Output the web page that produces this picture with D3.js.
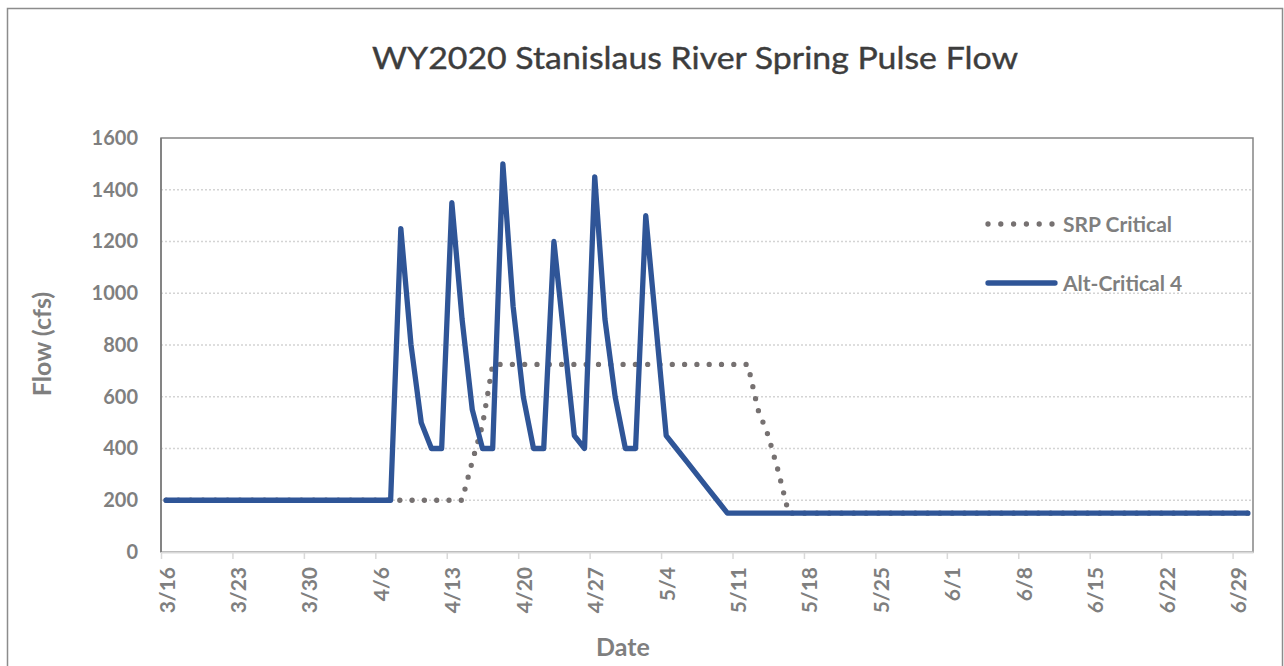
<!DOCTYPE html>
<html>
<head>
<meta charset="utf-8">
<script src="https://cdn.jsdelivr.net/npm/d3@7"></script>
<style>
  html, body { margin: 0; padding: 0; background: #fff; }
  svg { display: block; font-family: Lato, "Open Sans", sans-serif; }
</style>
</head>
<body>
<svg id="chart" width="1284" height="666"></svg>
<script>
// chart text
const title = 'WY2020 Stanislaus River Spring Pulse Flow';
const xTitle = 'Date';
const yTitle = 'Flow (cfs)';
const seriesNames = ['SRP Critical', 'Alt-Critical 4'];

// axis ticks
const yTicks = [0, 200, 400, 600, 800, 1000, 1200, 1400, 1600];
const xTickLabels = ['3/16', '3/23', '3/30', '4/6', '4/13', '4/20', '4/27', '5/4',
  '5/11', '5/18', '5/25', '6/1', '6/8', '6/15', '6/22', '6/29'];

// daily flows, 3/16/2020 .. 6/30/2020
const firstDay = '2020-03-16';
const srpCritical = [
  // March 16-31
  200, 200, 200, 200, 200, 200, 200, 200, 200, 200, 200, 200, 200, 200, 200, 200,
  // April
  200, 200, 200, 200, 200, 200, 200, 200, 200, 200, 200, 200, 200, 200, 350,
  490, 725, 725, 725, 725, 725, 725, 725, 725, 725, 725, 725, 725, 725, 725,
  // May
  725, 725, 725, 725, 725, 725, 725, 725, 725, 725, 725, 725, 550, 450, 310,
  150, 150, 150, 150, 150, 150, 150, 150, 150, 150, 150, 150, 150, 150, 150, 150,
  // June
  150, 150, 150, 150, 150, 150, 150, 150, 150, 150, 150, 150, 150, 150, 150,
  150, 150, 150, 150, 150, 150, 150, 150, 150, 150, 150, 150, 150, 150, 150
];
const altCritical4 = [
  // March 16-31
  200, 200, 200, 200, 200, 200, 200, 200, 200, 200, 200, 200, 200, 200, 200, 200,
  // April
  200, 200, 200, 200, 200, 200, 200, 1250, 800, 500, 400, 400, 1350, 900, 550,
  400, 400, 1500, 950, 600, 400, 400, 1200, 825, 450, 400, 1450, 900, 600, 400,
  // May
  400, 1300, 875, 450, 400, 350, 300, 250, 200, 150, 150, 150, 150, 150, 150,
  150, 150, 150, 150, 150, 150, 150, 150, 150, 150, 150, 150, 150, 150, 150, 150,
  // June
  150, 150, 150, 150, 150, 150, 150, 150, 150, 150, 150, 150, 150, 150, 150,
  150, 150, 150, 150, 150, 150, 150, 150, 150, 150, 150, 150, 150, 150, 150
];

const svg = d3.select('#chart');
const margin = { left: 161, top: 138, right: 1253, bottom: 552 };
const labelColor = '#7f7f7f';

const start = d3.timeParse('%Y-%m-%d')(firstDay);
const end = d3.timeDay.offset(start, srpCritical.length);
const x = d3.scaleTime().domain([start, end]).range([margin.left, margin.right]);
const y = d3.scaleLinear().domain([0, 1600]).range([margin.bottom, margin.top]);

// Excel date axis, points sit in the middle of each day
const toPoints = (vals) => vals.map((v, i) => ({
  date: d3.timeHour.offset(d3.timeDay.offset(start, i), 12), v }));

// outer chart border
svg.append('rect')
  .attr('x', 7.5).attr('y', 8.5).attr('width', 1275).attr('height', 700)
  .attr('fill', 'none').attr('stroke', '#8c8c8c').attr('stroke-width', 1.5);

// title
svg.append('text')
  .attr('x', 695).attr('y', 69)
  .attr('text-anchor', 'middle')
  .attr('font-size', 31)
  .attr('textLength', 646).attr('lengthAdjust', 'spacingAndGlyphs')
  .attr('fill', '#3d3d3d')
  .attr('stroke', '#3d3d3d').attr('stroke-width', 0.4)
  .text(title);

// gridlines
svg.append('g')
  .selectAll('line')
  .data(yTicks.filter(d => d > 0 && d < 1600))
  .join('line')
  .attr('x1', margin.left).attr('x2', margin.right)
  .attr('y1', d => y(d)).attr('y2', d => y(d))
  .attr('stroke', '#d4d4d4').attr('stroke-width', 1.5)
  .attr('stroke-dasharray', '2 2');

// plot area border
svg.append('rect')
  .attr('x', margin.left).attr('y', margin.top)
  .attr('width', margin.right - margin.left).attr('height', margin.bottom - margin.top)
  .attr('fill', 'none').attr('stroke', '#858585').attr('stroke-width', 1.5);

// y axis labels
const yAxis = d3.axisLeft(y).tickValues(yTicks).tickFormat(d3.format('d'))
  .tickSize(0).tickPadding(23);
const gy = svg.append('g').attr('transform', `translate(${margin.left},0)`).call(yAxis);
gy.select('.domain').remove();
gy.selectAll('text')
  .attr('font-family', 'Lato, sans-serif')
  .attr('font-weight', 700).attr('font-size', 20)
  .attr('fill', labelColor);

// x axis
const parseTick = (s) => {
  const [m, d] = s.split('/').map(Number);
  return new Date(2020, m - 1, d);
};
const xAxis = d3.axisBottom(x)
  .tickValues(xTickLabels.map(parseTick))
  .tickFormat((d, i) => xTickLabels[i])
  .tickSize(7).tickSizeOuter(0);
const gx = svg.append('g').attr('transform', `translate(0,${margin.bottom})`).call(xAxis);
gx.select('.domain').attr('stroke', '#d9d9d9').attr('stroke-width', 2);
gx.selectAll('.tick line').attr('stroke', '#d9d9d9').attr('stroke-width', 1.5);
gx.selectAll('.tick text')
  .attr('font-family', 'Lato, sans-serif')
  .attr('font-weight', 700).attr('font-size', 21)
  .attr('fill', labelColor)
  .attr('text-anchor', 'end')
  .attr('transform', 'rotate(-90)')
  .attr('x', -15).attr('y', 0).attr('dy', 13);

// left axis line on top of the border
svg.append('line')
  .attr('x1', margin.left).attr('x2', margin.left)
  .attr('y1', margin.top).attr('y2', margin.bottom)
  .attr('stroke', '#7a7a7a').attr('stroke-width', 1.5);

// axis titles
svg.append('text')
  .attr('x', 623).attr('y', 656)
  .attr('text-anchor', 'middle')
  .attr('font-weight', 700).attr('font-size', 25)
  .attr('fill', labelColor)
  .text(xTitle);
svg.append('text')
  .attr('transform', 'translate(51,344) rotate(-90)')
  .attr('text-anchor', 'middle')
  .attr('font-weight', 700).attr('font-size', 25)
  .attr('fill', labelColor)
  .text(yTitle);

// series
const line = d3.line().x(d => x(d.date)).y(d => y(d.v));

svg.append('path')
  .datum(toPoints(srpCritical))
  .attr('d', line)
  .attr('fill', 'none')
  .attr('stroke', '#767171').attr('stroke-width', 5.3)
  .attr('stroke-linecap', 'round').attr('stroke-linejoin', 'round')
  .attr('stroke-dasharray', '0 12.3');

svg.append('path')
  .datum(toPoints(altCritical4))
  .attr('d', line)
  .attr('fill', 'none')
  .attr('stroke', '#2f5597').attr('stroke-width', 5.3)
  .attr('stroke-linecap', 'round').attr('stroke-linejoin', 'round');

// legend
const legend = svg.append('g');
legend.append('line')
  .attr('x1', 988).attr('x2', 1052).attr('y1', 224).attr('y2', 224)
  .attr('stroke', '#767171').attr('stroke-width', 5.3)
  .attr('stroke-linecap', 'round').attr('stroke-dasharray', '0 12.8');
legend.append('line')
  .attr('x1', 988).attr('x2', 1055).attr('y1', 283).attr('y2', 283)
  .attr('stroke', '#2f5597').attr('stroke-width', 5.3)
  .attr('stroke-linecap', 'round');
legend.selectAll('text')
  .data(seriesNames)
  .join('text')
  .attr('x', 1063)
  .attr('y', (d, i) => 224 + i * 59)
  .attr('dy', '0.36em')
  .attr('font-weight', 700).attr('font-size', 21)
  .attr('fill', labelColor)
  .text(d => d);
</script>
</body>
</html>
